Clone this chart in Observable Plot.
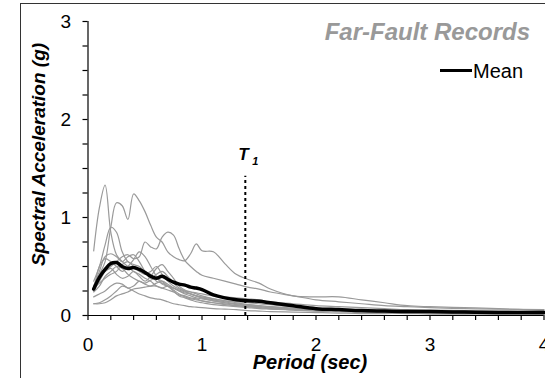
<!DOCTYPE html>
<html>
<head>
<meta charset="utf-8">
<script src="https://cdn.jsdelivr.net/npm/d3@7"></script>
<script src="https://cdn.jsdelivr.net/npm/@observablehq/plot@0.6"></script>
<style>
  body { margin: 0; background: #fff; overflow: hidden; }
  #fig { position: relative; width: 545px; height: 378px; overflow: hidden;
         font-family: "Liberation Sans", Arial, sans-serif; }
  #frame { position: absolute; left: 20px; top: 3px; width: 600px; height: 500px;
           border: 1.5px solid #333; box-sizing: border-box; pointer-events: none; }
  #title { position: absolute; right: 15px; top: 20px; font-size: 24px; line-height: 24px;
           font-weight: bold; font-style: italic; color: #999; white-space: nowrap; }
  #legend-line { position: absolute; left: 440px; top: 68.5px; width: 32px; height: 3.5px; background: #000; }
  #legend-text { position: absolute; left: 473px; top: 61px; font-size: 20px; line-height: 20px; color: #000; }
</style>
</head>
<body>
<div id="fig">
  <div id="chart"></div>
  <div id="frame"></div>
  <div id="title">Far-Fault Records</div>
  <div id="legend-line"></div>
  <div id="legend-text">Mean</div>
</div>
<script>
// Periods (sec) at which each spectrum is sampled
const period = [0.05,0.1,0.15,0.2,0.25,0.3,0.35,0.4,0.45,0.5,0.55,0.6,0.65,0.7,0.75,0.8,0.85,0.9,0.95,1.0,
                1.1,1.2,1.3,1.4,1.5,1.6,1.8,2.0,2.2,2.4,2.6,2.8,3.0,3.3,3.6,4.0];

// Spectral acceleration (g) of the individual far-fault records
const rec01 = [0.66,1.10,1.33,0.85,0.62,0.55,0.50,0.45,0.42,0.38,0.35,0.30,0.28,0.30,0.26,0.22,0.20,0.18,0.17,0.15,
               0.13,0.12,0.10,0.09,0.08,0.07,0.06,0.05,0.04,0.035,0.03,0.03,0.025,0.02,0.02,0.02];
const rec02 = [0.30,0.42,0.55,0.90,1.15,1.12,0.98,1.24,1.17,1.06,0.92,0.80,0.75,0.65,0.60,0.57,0.56,0.63,0.73,0.66,
               0.65,0.53,0.42,0.37,0.33,0.27,0.20,0.19,0.19,0.16,0.13,0.10,0.09,0.08,0.07,0.05];
const rec03 = [0.35,0.50,0.72,0.90,0.85,0.65,0.55,0.52,0.50,0.45,0.42,0.35,0.33,0.30,0.28,0.25,0.23,0.22,0.20,0.18,
               0.16,0.14,0.12,0.11,0.10,0.09,0.075,0.065,0.055,0.05,0.045,0.04,0.035,0.03,0.03,0.025];
const rec04 = [0.25,0.35,0.45,0.50,0.55,0.60,0.62,0.58,0.60,0.75,0.70,0.68,0.80,0.85,0.82,0.68,0.56,0.50,0.45,0.41,
               0.38,0.35,0.32,0.29,0.27,0.24,0.20,0.16,0.14,0.12,0.10,0.09,0.08,0.07,0.065,0.06];
const rec05 = [0.30,0.45,0.60,0.63,0.60,0.55,0.60,0.62,0.55,0.45,0.38,0.42,0.45,0.40,0.33,0.28,0.25,0.22,0.20,0.19,
               0.17,0.15,0.14,0.13,0.12,0.11,0.09,0.075,0.065,0.055,0.05,0.045,0.04,0.035,0.03,0.03];
const rec06 = [0.25,0.50,0.58,0.55,0.50,0.45,0.50,0.57,0.65,0.60,0.50,0.40,0.32,0.30,0.28,0.26,0.24,0.22,0.20,0.18,
               0.15,0.13,0.11,0.10,0.09,0.08,0.065,0.055,0.045,0.04,0.035,0.03,0.03,0.025,0.02,0.02];
const rec07 = [0.30,0.38,0.45,0.48,0.42,0.38,0.40,0.45,0.40,0.35,0.40,0.48,0.52,0.45,0.38,0.30,0.26,0.24,0.22,0.20,
               0.17,0.15,0.13,0.11,0.10,0.09,0.07,0.06,0.05,0.045,0.04,0.035,0.03,0.03,0.025,0.02];
const rec08 = [0.19,0.22,0.25,0.30,0.33,0.32,0.28,0.30,0.35,0.32,0.30,0.33,0.35,0.32,0.28,0.25,0.22,0.20,0.18,0.17,
               0.15,0.13,0.12,0.10,0.09,0.08,0.07,0.06,0.05,0.045,0.04,0.035,0.03,0.03,0.025,0.02];
const rec09 = [0.12,0.12,0.13,0.16,0.20,0.22,0.24,0.27,0.28,0.29,0.30,0.30,0.28,0.26,0.24,0.21,0.19,0.17,0.16,0.15,
               0.13,0.11,0.10,0.09,0.08,0.07,0.06,0.05,0.045,0.04,0.035,0.03,0.03,0.025,0.02,0.02];
const rec10 = [0.12,0.13,0.16,0.20,0.25,0.30,0.28,0.25,0.22,0.20,0.18,0.17,0.16,0.14,0.12,0.11,0.10,0.09,0.085,0.08,
               0.07,0.065,0.06,0.05,0.045,0.04,0.035,0.03,0.025,0.02,0.02,0.02,0.015,0.015,0.015,0.01];
const rec11 = [0.24,0.30,0.40,0.45,0.50,0.48,0.42,0.38,0.35,0.33,0.36,0.38,0.35,0.30,0.25,0.20,0.18,0.16,0.14,0.13,
               0.11,0.10,0.09,0.08,0.07,0.065,0.055,0.045,0.04,0.035,0.03,0.025,0.025,0.02,0.02,0.015];
const rec12 = [0.28,0.33,0.38,0.42,0.45,0.52,0.55,0.50,0.45,0.42,0.45,0.50,0.42,0.35,0.30,0.27,0.25,0.24,0.23,0.22,
               0.20,0.19,0.18,0.17,0.16,0.14,0.12,0.10,0.09,0.08,0.07,0.06,0.055,0.05,0.045,0.04];

// Mean spectrum of the record set
const meanSa = [0.27,0.39,0.47,0.53,0.54,0.50,0.48,0.49,0.47,0.44,0.40,0.38,0.40,0.37,0.34,0.32,0.31,0.29,0.28,0.265,
                0.21,0.18,0.16,0.15,0.145,0.13,0.10,0.07,0.06,0.05,0.045,0.04,0.04,0.035,0.03,0.03];

// Fundamental period of the structure and height of its marker line
const t1Period = 1.38;
const t1Height = 1.42;

// Axis ticks
const xMajor = [0, 1, 2, 3, 4];
const yMajor = [0, 1, 2, 3];
const xMinor = d3.range(0, 4.001, 0.2).map(v => +v.toFixed(2));
const yMinor = d3.range(0, 3.001, 0.25);

const records = [rec01, rec02, rec03, rec04, rec05, rec06, rec07, rec08, rec09, rec10, rec11, rec12];
const recordRows = records.flatMap((vals, i) => vals.map((sa, j) => ({id: i, period: period[j], sa})));
const meanRows = meanSa.map((sa, j) => ({period: period[j], sa}));

const font = '"Liberation Sans", Arial, sans-serif';
const isMajor = (list) => (d) => list.some(m => Math.abs(m - d) < 1e-9) ? String(Math.round(d)) : "";

const chart = Plot.plot({
  width: 545,
  height: 378,
  marginLeft: 87.5,
  marginRight: 1.5,
  marginTop: 21,
  marginBottom: 63,
  x: {domain: [0, 4]},
  y: {domain: [0, 3]},
  style: {fontFamily: font, fontSize: "19px", color: "#000", background: "transparent", overflow: "visible"},
  marks: [
    Plot.axisX({ticks: xMinor, tickFormat: isMajor(xMajor), tickSize: 5, tickPadding: 17, label: null, strokeWidth: 1.2}),
    Plot.axisY({ticks: yMinor, tickFormat: isMajor(yMajor), tickSize: 5, tickPadding: 12, label: null, strokeWidth: 1.2}),
    Plot.line(recordRows, {x: "period", y: "sa", z: "id", stroke: "#9a9a9a", strokeWidth: 1.2, curve: "catmull-rom"}),
    Plot.line(meanRows, {x: "period", y: "sa", stroke: "#000", strokeWidth: 3.5, curve: "catmull-rom"}),
    Plot.ruleX([t1Period], {y1: 0, y2: t1Height, stroke: "#000", strokeWidth: 2, strokeDasharray: "3,3"}),
    Plot.ruleX([0], {y1: 0, y2: 3, stroke: "#000", strokeWidth: 1.2}),
    Plot.ruleY([0], {stroke: "#000", strokeWidth: 1.2}),
    Plot.text([t1Period], {x: d => d, y: t1Height, text: () => "T", dx: -2, dy: -16, lineAnchor: "bottom",
      fontSize: 17, fontWeight: "bold", fontStyle: "italic"}),
    Plot.text([t1Period], {x: d => d, y: t1Height, text: () => "1", dx: 10, dy: -11, lineAnchor: "bottom",
      fontSize: 11, fontWeight: "bold", fontStyle: "italic"}),
    Plot.text(["Period (sec)"], {text: d => d, frameAnchor: "bottom", dx: -6, dy: 53, lineAnchor: "bottom",
      fontSize: 20, fontWeight: "bold", fontStyle: "italic"}),
    Plot.text(["Spectral Acceleration (g)"], {text: d => d, frameAnchor: "left", textAnchor: "middle", rotate: -90,
      dx: -49, dy: -14, fontSize: 19, fontWeight: "bold", fontStyle: "italic"})
  ]
});

document.getElementById("chart").appendChild(chart);
</script>
</body>
</html>
